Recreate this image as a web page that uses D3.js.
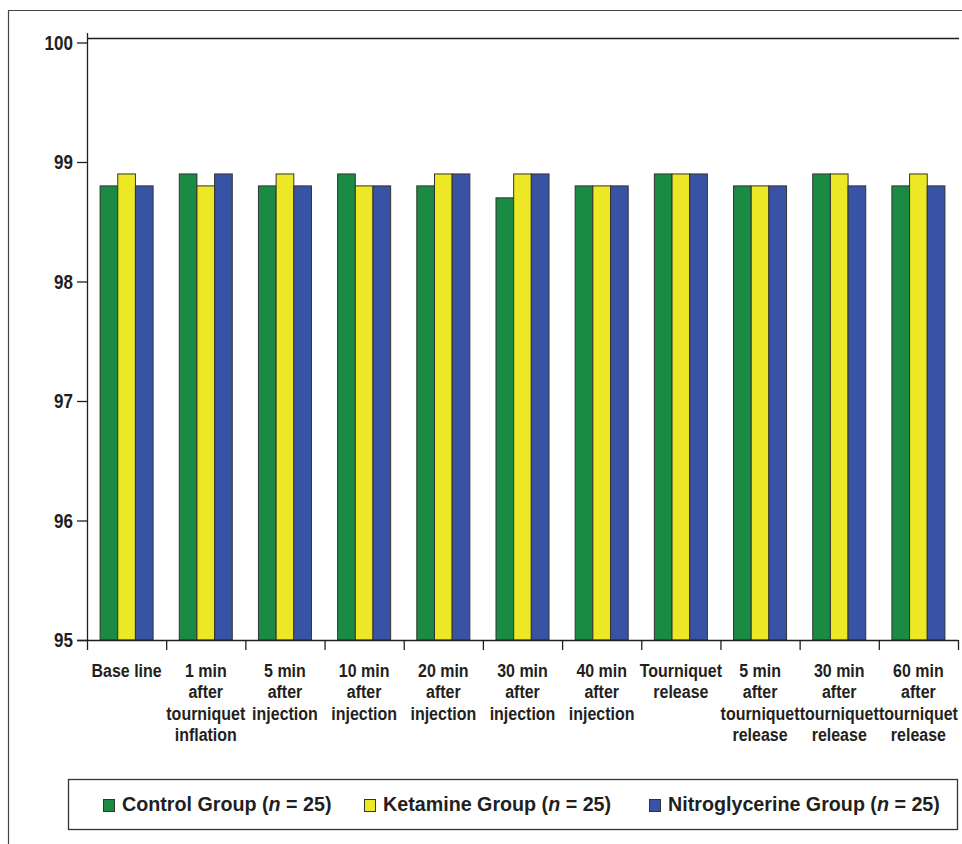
<!DOCTYPE html>
<html>
<head>
<meta charset="utf-8">
<script src="https://cdn.jsdelivr.net/npm/d3@7"></script>
<style>
  html, body { margin: 0; padding: 0; background: #fff; }
  svg { display: block; }
</style>
</head>
<body>
<svg id="chart" width="962" height="844"></svg>
<script>
// Time points (label lines)
const categories = [
  ["Base line"],
  ["1 min", "after", "tourniquet", "inflation"],
  ["5 min", "after", "injection"],
  ["10 min", "after", "injection"],
  ["20 min", "after", "injection"],
  ["30 min", "after", "injection"],
  ["40 min", "after", "injection"],
  ["Tourniquet", "release"],
  ["5 min", "after", "tourniquet", "release"],
  ["30 min", "after", "tourniquet", "release"],
  ["60 min", "after", "tourniquet", "release"]
];
const seriesNames = ["Control Group", "Ketamine Group", "Nitroglycerine Group"];
const seriesColors = ["#1b8a43", "#ece826", "#3953a4"];
const controlValues = [98.8, 98.9, 98.8, 98.9, 98.8, 98.7, 98.8, 98.9, 98.8, 98.9, 98.8];
const ketamineValues = [98.9, 98.8, 98.9, 98.8, 98.9, 98.9, 98.8, 98.9, 98.8, 98.9, 98.9];
const nitroValues = [98.8, 98.9, 98.8, 98.8, 98.9, 98.9, 98.8, 98.9, 98.8, 98.8, 98.8];
const yTicks = [95, 96, 97, 98, 99, 100];

const seriesValues = [controlValues, ketamineValues, nitroValues];
const sans = "'Liberation Sans', Arial, sans-serif";
const ink = "#231f20";
// condensed look for axis text: horizontally squeezed bold sans
const squeeze = 0.85;

const svg = d3.select("#chart");

// outer frame (top and left edges)
svg.append("line").attr("x1", 8).attr("x2", 962).attr("y1", 10.5).attr("y2", 10.5)
  .attr("stroke", "#444").attr("stroke-width", 1.2);
svg.append("line").attr("x1", 8.5).attr("x2", 8.5).attr("y1", 10).attr("y2", 844)
  .attr("stroke", "#444").attr("stroke-width", 1.2);

const plotLeft = 87, plotRight = 958, plotTop = 42.5, plotBottom = 640;

const y = d3.scaleLinear().domain([95, 100]).range([plotBottom, plotTop]);
const x0 = d3.scaleBand().domain(d3.range(categories.length)).range([plotLeft, plotRight]).padding(0);
const x1 = d3.scaleBand().domain(d3.range(seriesNames.length)).range([0, x0.bandwidth()])
  .paddingInner(0).paddingOuter(0.74);

// top border of plot area
svg.append("line").attr("x1", plotLeft).attr("x2", 959).attr("y1", 38.5).attr("y2", 38.5)
  .attr("stroke", ink).attr("stroke-width", 1.3);

// bars
const groups = svg.append("g").selectAll("g")
  .data(categories.map((c, i) => i))
  .join("g")
  .attr("transform", i => `translate(${x0(i)},0)`);

groups.selectAll("rect")
  .data(i => seriesValues.map((vals, s) => ({ s, v: vals[i] })))
  .join("rect")
  .attr("x", d => x1(d.s))
  .attr("y", d => y(d.v))
  .attr("width", x1.bandwidth())
  .attr("height", d => y(95) - y(d.v))
  .attr("fill", d => seriesColors[d.s])
  .attr("stroke", "#333")
  .attr("stroke-width", 1);

// y axis
const yAxis = svg.append("g").attr("transform", `translate(${plotLeft},0)`)
  .call(d3.axisLeft(y).tickValues(yTicks).tickSize(10).tickSizeOuter(0).tickFormat(d3.format("d")));
yAxis.select(".domain").attr("d", `M0.5,33V${plotBottom}`).attr("stroke", ink).attr("stroke-width", 1.3);
yAxis.selectAll(".tick line").attr("stroke", ink).attr("stroke-width", 1.3);
yAxis.selectAll(".tick text")
  .attr("x", 0).attr("dy", "0.33em")
  .attr("transform", `translate(-14,0) scale(0.83,1)`)
  .attr("fill", ink)
  .style("font-family", sans).style("font-size", "20.5px").style("font-weight", "bold");

// x axis with ticks at group boundaries
const xAxisG = svg.append("g");
xAxisG.append("line").attr("x1", plotLeft - 10).attr("x2", plotRight).attr("y1", plotBottom + 0.5).attr("y2", plotBottom + 0.5)
  .attr("stroke", ink).attr("stroke-width", 1.3);
const bounds = categories.map((c, i) => x0(i)).concat([x0(categories.length - 1) + x0.bandwidth()]);
xAxisG.selectAll("line.tk").data(bounds).join("line").attr("class", "tk")
  .attr("x1", d => d + 0.5).attr("x2", d => d + 0.5)
  .attr("y1", plotBottom).attr("y2", plotBottom + 10)
  .attr("stroke", ink).attr("stroke-width", 1.3);

const labels = xAxisG.selectAll("text.cat").data(categories).join("text").attr("class", "cat")
  .attr("transform", (c, i) => `translate(${x0(i) + x0.bandwidth() / 2},677) scale(${squeeze},1)`)
  .attr("text-anchor", "middle")
  .attr("fill", ink)
  .style("font-family", sans).style("font-size", "18.8px").style("font-weight", "bold");
labels.selectAll("tspan").data(c => c).join("tspan")
  .attr("x", 0)
  .attr("dy", (d, j) => j === 0 ? 0 : 21.5)
  .text(d => d);

// legend
svg.append("rect").attr("x", 68.5).attr("y", 779.5).attr("width", 889).attr("height", 50)
  .attr("fill", "none").attr("stroke", "#333").attr("stroke-width", 1.3);

const legendX = [103, 364, 649];
const leg = svg.append("g").selectAll("g").data(seriesNames).join("g")
  .attr("transform", (d, i) => `translate(${legendX[i]},0)`);
leg.append("rect").attr("x", 0.5).attr("y", 799.5).attr("width", 11).attr("height", 12)
  .attr("fill", (d, i) => seriesColors[i]).attr("stroke", "#333").attr("stroke-width", 1);
const lt = leg.append("text").attr("x", 19).attr("y", 811)
  .attr("fill", ink)
  .style("font-family", sans).style("font-size", "19.7px").style("font-weight", "bold");
lt.append("tspan").text(d => d + " (");
lt.append("tspan").style("font-style", "italic").text("n");
lt.append("tspan").text(" = 25)");
</script>
</body>
</html>
